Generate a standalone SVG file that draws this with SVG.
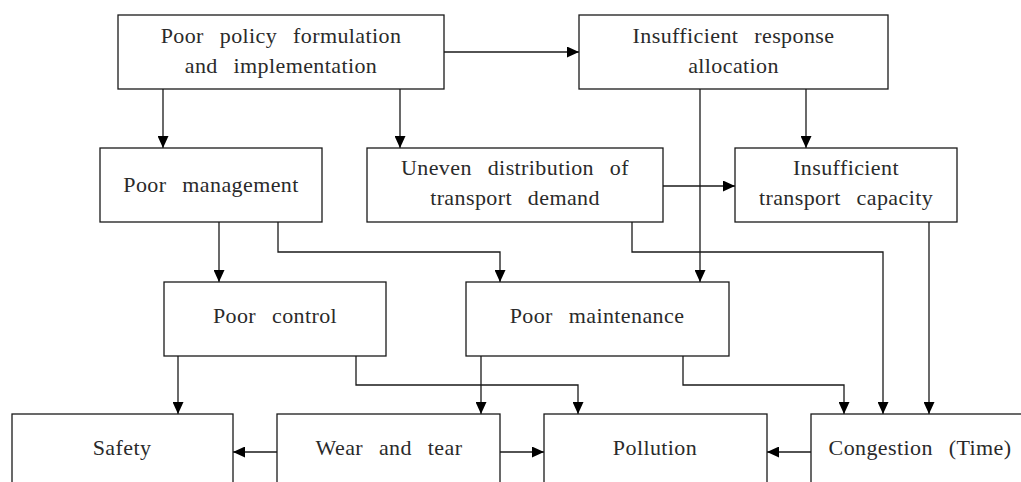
<svg xmlns="http://www.w3.org/2000/svg" width="1021" height="482" viewBox="0 0 1021 482">
  <style>
    .box { fill: #ffffff; stroke: #1a1a1a; stroke-width: 1.3; }
    .lbl { font-family: "Liberation Serif", "DejaVu Serif", serif; font-size: 22px; fill: #2a2a2a; text-anchor: middle; word-spacing: 10px; letter-spacing: 0.4px; }
    .con { fill: none; stroke: #1a1a1a; stroke-width: 1.3; marker-end: url(#arrow); }
  </style>
  <defs>
    <marker id="arrow" markerUnits="userSpaceOnUse" markerWidth="12" markerHeight="11" refX="12" refY="5.5" orient="auto">
      <path d="M0,0 L12,5.5 L0,11 Z" fill="#000000"/>
    </marker>
  </defs>
  <rect width="1021" height="482" fill="#ffffff"/>

  <g id="connectors">
    <path class="con" d="M444,52 H579"/>
    <path class="con" d="M163,89 V148"/>
    <path class="con" d="M400,89 V148"/>
    <path class="con" d="M700,89 V282"/>
    <path class="con" d="M806,89 V148"/>
    <path class="con" d="M663,186 H735"/>
    <path class="con" d="M219,222 V282"/>
    <path class="con" d="M278,222 V252 H500 V282"/>
    <path class="con" d="M632,222 V252 H883 V414"/>
    <path class="con" d="M929,222 V414"/>
    <path class="con" d="M178,356 V414"/>
    <path class="con" d="M356,356 V385 H578 V414"/>
    <path class="con" d="M481,356 V414"/>
    <path class="con" d="M683,356 V385 H844 V414"/>
    <path class="con" d="M277,452 H233"/>
    <path class="con" d="M500,452 H544"/>
    <path class="con" d="M811,452 H767"/>
  </g>

  <g id="policy">
    <rect class="box" x="118" y="15" width="326" height="74"/>
    <text class="lbl" x="281" y="43">Poor policy formulation</text>
    <text class="lbl" x="281" y="73">and implementation</text>
  </g>
  <g id="response">
    <rect class="box" x="579" y="15" width="309" height="74"/>
    <text class="lbl" x="733.5" y="43">Insufficient response</text>
    <text class="lbl" x="733.5" y="73">allocation</text>
  </g>
  <g id="management">
    <rect class="box" x="100" y="148" width="222" height="74"/>
    <text class="lbl" x="211" y="192">Poor management</text>
  </g>
  <g id="uneven">
    <rect class="box" x="367" y="148" width="296" height="74"/>
    <text class="lbl" x="515" y="175">Uneven distribution of</text>
    <text class="lbl" x="515" y="205">transport demand</text>
  </g>
  <g id="capacity">
    <rect class="box" x="735" y="148" width="222" height="74"/>
    <text class="lbl" x="846" y="175">Insufficient</text>
    <text class="lbl" x="846" y="205">transport capacity</text>
  </g>
  <g id="control">
    <rect class="box" x="164" y="282" width="222" height="74"/>
    <text class="lbl" x="275" y="323">Poor control</text>
  </g>
  <g id="maintenance">
    <rect class="box" x="466" y="282" width="263" height="74"/>
    <text class="lbl" x="597" y="323">Poor maintenance</text>
  </g>
  <g id="safety">
    <rect class="box" x="12" y="414" width="221" height="90"/>
    <text class="lbl" x="122" y="455">Safety</text>
  </g>
  <g id="wear">
    <rect class="box" x="277" y="414" width="223" height="90"/>
    <text class="lbl" x="389" y="455">Wear and tear</text>
  </g>
  <g id="pollution">
    <rect class="box" x="544" y="414" width="223" height="90"/>
    <text class="lbl" x="655" y="455">Pollution</text>
  </g>
  <g id="congestion">
    <rect class="box" x="811" y="414" width="222" height="90"/>
    <text class="lbl" x="920" y="455">Congestion (Time)</text>
  </g>
</svg>
